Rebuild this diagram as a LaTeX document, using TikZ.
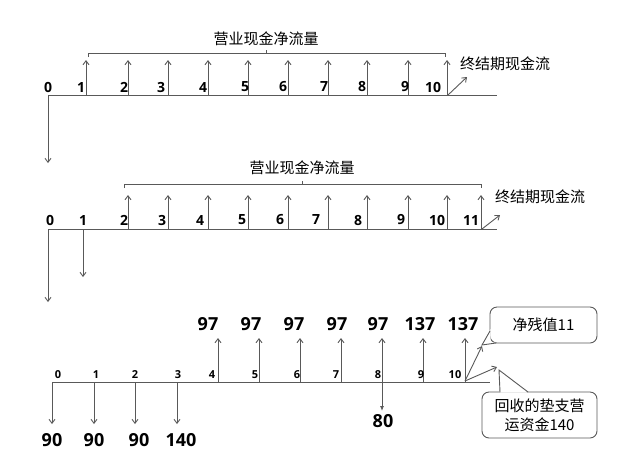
\documentclass[tikz,border=0pt]{standalone}
\usepackage{fontspec}
\setmainfont{Noto Sans CJK SC}
\newfontfamily\numfont{Open Sans}
\usetikzlibrary{arrows.meta}
\definecolor{ln}{HTML}{595959}
\tikzset{
  x=1pt,y=-1pt,
  ln/.style={draw=ln,line width=0.9pt},
  upar/.style={ln,-{Straight Barb[length=4pt,width=6pt]}},
  dnar/.style={ln,-{Straight Barb[length=4pt,width=6pt]}},
  fillar/.style={ln,-{Latex[length=5pt,width=4pt]}},
  lab/.style={inner sep=0pt,font=\numfont\bfseries\fontsize{14}{16}\selectfont},
  slab/.style={inner sep=0pt,font=\numfont\bfseries\fontsize{11}{13}\selectfont},
  val/.style={inner sep=0pt,font=\numfont\bfseries\fontsize{18}{20}\selectfont},
  cjk/.style={inner sep=0pt,font=\fontsize{15}{17}\selectfont},
  callout/.style={draw=ln,line width=0.9pt,fill=white,rounded corners=7pt}
}
\begin{document}
\begin{tikzpicture}
\useasboundingbox (0,0) rectangle (624,451);
% ---------- Diagram 1 ----------
\coordinate (a1s) at (48,95); \coordinate (a1e) at (497,95);
\draw[ln] (a1s) -- (a1e);
\coordinate (a1d) at (48,163);
\draw[dnar] (a1s) -- (a1d);
\foreach \x [count=\i] in {86,128,168,208,248,288,328,367,408,447}{
  \coordinate (a1b\i) at (\x,95); \coordinate (a1t\i) at (\x,60);
  \draw[upar] (a1b\i) -- (a1t\i);
}
\foreach \x/\t [count=\i] in {48/0,81/1,124/2,161/3,203/4,245/5,283/6,324/7,362/8,405/9,433/10}{
  \node[lab] (a1l\i) at (\x,87) {\t};
}
\coordinate (b1a) at (88,57); \coordinate (b1b) at (88,53);
\coordinate (b1c) at (445,53); \coordinate (b1d) at (445,57);
\coordinate (b1m) at (266,53); \coordinate (b1n) at (266,50);
\draw[ln,line width=0.7pt] (b1a) -- (b1b) -- (b1c) -- (b1d);
\draw[ln,line width=0.7pt] (b1m) -- (b1n);
\node[cjk] (t1) at (266,39) {营业现金净流量};
\coordinate (d1s) at (448,95); \coordinate (d1e) at (467,77);
\draw[upar] (d1s) -- (d1e);
\node[cjk] (z1) at (505,64) {终结期现金流};
% ---------- Diagram 2 ----------
\coordinate (a2s) at (48,229); \coordinate (a2e) at (497,229);
\draw[ln] (a2s) -- (a2e);
\coordinate (a2d) at (48,302);
\draw[dnar] (a2s) -- (a2d);
\coordinate (a2b0) at (83,229); \coordinate (a2d1) at (83,277);
\draw[dnar] (a2b0) -- (a2d1);
\foreach \x [count=\i] in {128,168,208,248,288,328,367,408,447,481}{
  \coordinate (a2b\i) at (\x,229); \coordinate (a2t\i) at (\x,195);
  \draw[upar] (a2b\i) -- (a2t\i);
}
\foreach \x/\t [count=\i] in {50/0,83/1,124/2,162/3,200/4,242/5,280/6,316/7,358/8,401/9,437/10,471/11}{
  \node[lab] (a2l\i) at (\x,220) {\t};
}
\coordinate (b2a) at (124,188); \coordinate (b2b) at (124,184);
\coordinate (b2c) at (481,184); \coordinate (b2d) at (481,188);
\coordinate (b2m) at (302,184); \coordinate (b2n) at (302,181);
\draw[ln,line width=0.7pt] (b2a) -- (b2b) -- (b2c) -- (b2d);
\draw[ln,line width=0.7pt] (b2m) -- (b2n);
\node[cjk] (t2) at (302,168) {营业现金净流量};
\coordinate (d2s) at (482,229); \coordinate (d2e) at (500,215);
\draw[upar] (d2s) -- (d2e);
\node[cjk] (z2) at (540,197) {终结期现金流};
% ---------- Diagram 3 ----------
\coordinate (a3s) at (52,382); \coordinate (a3e) at (490,382);
\draw[ln] (a3s) -- (a3e);
\foreach \x/\vx/\v [count=\i] in {52/52/90,94/94/90,135/139/90,177/181/140}{
  \coordinate (a3db\i) at (\x,382); \coordinate (a3dt\i) at (\x,424);
  \draw[dnar] (a3db\i) -- (a3dt\i);
  \node[val] (a3dv\i) at (\vx,440) {\v};
}
\foreach \x/\vx/\v [count=\i] in {218/208/97,259/251/97,300/294/97,341/337/97,382/378/97,423/420/137,465/463/137}{
  \coordinate (a3ub\i) at (\x,382); \coordinate (a3ut\i) at (\x,338);
  \draw[upar] (a3ub\i) -- (a3ut\i);
  \node[val] (a3uv\i) at (\vx,324) {\v};
}
\foreach \x/\t [count=\i] in {58/0,96/1,135/2,178/3,212/4,255/5,297/6,336/7,378/8,421/9,455/10}{
  \node[slab] (a3l\i) at (\x,375) {\t};
}
\coordinate (e8s) at (382,382); \coordinate (e8e) at (382,411);
\draw[fillar] (e8s) -- (e8e);
\node[val] (v80) at (383,421) {80};
\coordinate (r0) at (465,381);
\coordinate (r1) at (482,346); \coordinate (r2) at (497,367);
\draw[upar] (r0) -- (r1);
\draw[upar] (r0) -- (r2);
% callout 1
\node[callout,minimum width=107pt,minimum height=36pt,inner sep=0pt] (c1) at (543.5,325) {};
\coordinate (p1a) at (490,331); \coordinate (p1t) at (482,345); \coordinate (p1b) at (496,343);
\fill[white] (490.5,329) -- (p1t) -- (497,342.5) -- (490.5,342.5) -- cycle;
\draw[ln] (p1a) -- (p1t) -- (p1b);
\node[cjk] (c1t) at (543.5,325) {净残值11};
% callout 2
\node[callout,minimum width=115pt,minimum height=46pt,inner sep=0pt] (c2) at (539.5,415) {};
\coordinate (p2a) at (500,392); \coordinate (p2t) at (499,370); \coordinate (p2b) at (528,392);
\fill[white] (500.3,392.5) -- (p2t) -- (527.5,392.5) -- cycle;
\draw[ln] (p2a) -- (p2t) -- (p2b);
\node[cjk,align=center,font=\fontsize{15}{19}\selectfont] (c2t) at (539.5,415) {回收的垫支营\\运资金140};
\end{tikzpicture}
\end{document}
